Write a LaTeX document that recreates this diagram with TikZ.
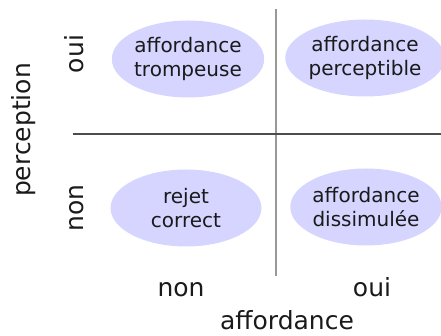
\documentclass[tikz,border=0pt]{standalone}
\usepackage{fontspec}
\setmainfont{DejaVu Sans}
\usetikzlibrary{shapes.geometric}
\definecolor{ellfill}{RGB}{213,213,255}
\definecolor{txt}{RGB}{26,26,26}
\begin{document}
\begin{tikzpicture}[x=1pt,y=1pt,
  ell/.style={ellipse,fill=ellfill,draw=none,minimum width=151pt,minimum height=77pt,inner sep=0pt,align=center,text=txt,font=\fontsize{20}{24.5}\selectfont},
  axlab/.style={text=txt,font=\fontsize{25}{30}\selectfont,inner sep=0pt,anchor=base}]
\useasboundingbox (0,0) rectangle (441,336);
% lines
\coordinate (vt) at (276,327);
\coordinate (vb) at (276,60);
\coordinate (hl) at (73,202);
\coordinate (hr) at (441,202);
\draw[line width=1.5pt,color=black!40] (vt) -- (vb);
\draw[line width=1.1pt,color=black!70] (hl) -- (hr);
% ellipses
\node[ell] (tl) at (188,277) {affordance\\trompeuse};
\node[ell] (tr) at (365,278) {affordance\\perceptible};
\node[ell] (bl) at (186,128) {rejet\\correct};
\node[ell] (br) at (366,129) {affordance\\dissimulée};
% axis labels
\node[axlab] (xnon) at (181,39) {non};
\node[axlab] (xoui) at (372,39) {oui};
\node[axlab] (xlab) at (287,6) {affordance};
\node[axlab,rotate=90] (ylab) at (30,206) {perception};
\node[axlab,rotate=90] (youi) at (83,282) {oui};
\node[axlab,rotate=90] (ynon) at (83,128) {non};
\end{tikzpicture}
\end{document}
